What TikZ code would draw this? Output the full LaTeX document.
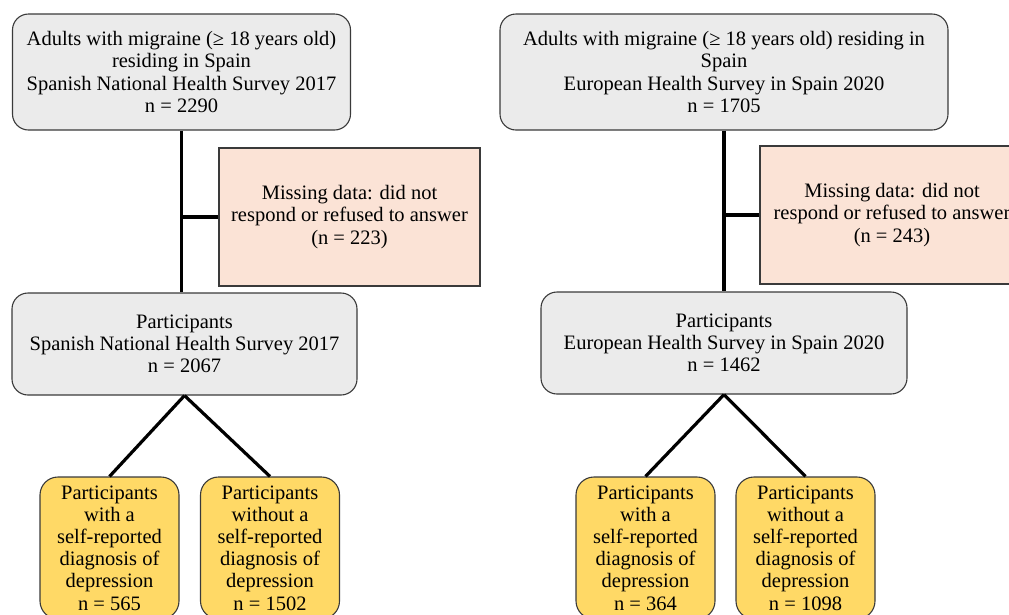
\documentclass[tikz,border=0pt]{standalone}
\usepackage{fontspec}
\setmainfont{Liberation Serif}
\definecolor{boxgray}{HTML}{EBEBEB}
\definecolor{boxpink}{HTML}{FBE3D6}
\definecolor{boxgold}{HTML}{FFD966}
\definecolor{edgegray}{HTML}{3A3A3A}
\tikzset{
  basebox/.style={draw=edgegray, line width=1.1pt, align=center, inner sep=0pt,
    font=\fontsize{20.5}{22.2}\selectfont, text=black},
  graybox/.style={basebox, fill=boxgray, rounded corners=16pt},
  pinkbox/.style={basebox, fill=boxpink},
  goldbox/.style={basebox, fill=boxgold, rounded corners=18pt, minimum width=139pt, minimum height=142pt},
  link/.style={line width=3.2pt, black}
}
\begin{document}
\begin{tikzpicture}[x=1pt,y=-1pt]
\useasboundingbox (0,0) rectangle (1009,614);
\clip (0,0) rectangle (1009,614);
% ---- left ----
\node[graybox, minimum width=338pt, minimum height=116pt] (topL) at (181.5,72)
  {Adults with migraine (≥ 18 years old)\\residing in Spain\\Spanish National Health Survey 2017\\n = 2290};
\node[pinkbox, minimum width=261pt, minimum height=138pt] (pinkL) at (349.5,217)
  {Missing data: did not\\respond or refused to answer\\(n = 223)};
\node[graybox, minimum width=345pt, minimum height=102pt] (partL) at (184.5,344)
  {Participants\\Spanish National Health Survey 2017\\n = 2067};
\node[goldbox] (yL1) at (109.5,548)
  {Participants\\with a\\self-reported\\diagnosis of\\depression\\n = 565};
\node[goldbox] (yL2) at (270,548)
  {Participants\\without a\\self-reported\\diagnosis of\\depression\\n = 1502};
% ---- right ----
\node[graybox, minimum width=448pt, minimum height=116pt] (topR) at (724,72)
  {Adults with migraine (≥ 18 years old) residing in\\Spain\\European Health Survey in Spain 2020\\n = 1705};
\node[pinkbox, minimum width=264pt, minimum height=138pt] (pinkR) at (892,215)
  {Missing data: did not\\respond or refused to answer\\(n = 243)};
\node[graybox, minimum width=366pt, minimum height=102pt] (partR) at (724,343)
  {Participants\\European Health Survey in Spain 2020\\n = 1462};
\node[goldbox] (yR1) at (645.5,548)
  {Participants\\with a\\self-reported\\diagnosis of\\depression\\n = 364};
\node[goldbox] (yR2) at (805.5,548)
  {Participants\\without a\\self-reported\\diagnosis of\\depression\\n = 1098};
% ---- connectors ----
\draw[link] (topL.south) -- (topL.south |- partL.north);
\draw[link] (topL.south |- pinkL.west) -- (pinkL.west);
\draw[link] (partL.south) -- (yL1.north);
\draw[link] (partL.south) -- (yL2.north);
\draw[link] (topR.south) -- (topR.south |- partR.north);
\draw[link] (topR.south |- pinkR.west) -- (pinkR.west);
\draw[link] (partR.south) -- (yR1.north);
\draw[link] (partR.south) -- (yR2.north);
\end{tikzpicture}
\end{document}
